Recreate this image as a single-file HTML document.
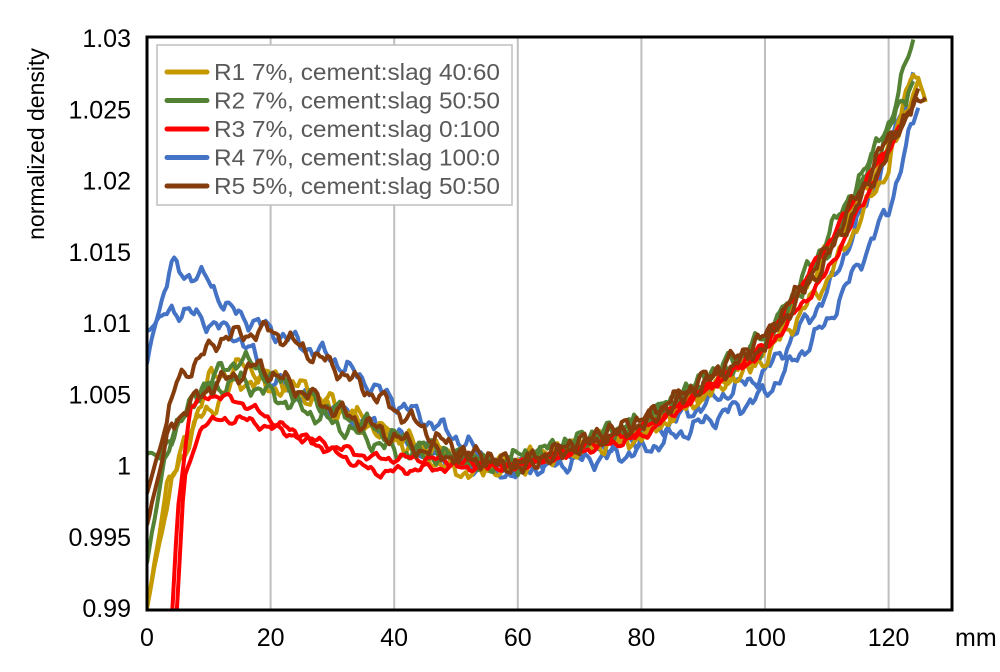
<!DOCTYPE html>
<html><head><meta charset="utf-8"><style>
html,body{margin:0;padding:0;background:#fff;}
svg text{font-family:"Liberation Sans",Arial,sans-serif;}
</style></head><body>
<svg id="s" width="1000" height="667" xmlns="http://www.w3.org/2000/svg">
<defs><clipPath id="c"><rect x="147" y="37" width="805" height="573"/></clipPath></defs>
<g id="grid" stroke="#bfbfbf" stroke-width="2"></g>
<g id="lines" clip-path="url(#c)" fill="none" stroke-width="4" stroke-linejoin="round"></g>
<rect x="147" y="37" width="805" height="573" fill="none" stroke="#000" stroke-width="3"/>
<g id="labels" font-size="25" fill="#000"></g>
<text x="44" y="144" font-size="23" transform="rotate(-90 44 144)" text-anchor="middle">normalized density</text>
<text x="955" y="646" font-size="25">mm</text>
<rect x="157" y="45" width="355" height="160" fill="#fff" stroke="#bfbfbf" stroke-width="1.5"/>
<g id="leg" font-size="23.5" fill="#595959"></g>
</svg>
<script>
const X=m=>147+m*6.18, Y=v=>38+(1.03-v)/0.04*570;
const ns="http://www.w3.org/2000/svg";
function el(p,t,a,txt){const e=document.createElementNS(ns,t);for(const k in a)e.setAttribute(k,a[k]);if(txt!=null)e.textContent=txt;document.getElementById(p).appendChild(e);}
for(let m=20;m<=120;m+=20)el("grid","line",{x1:X(m),y1:37,x2:X(m),y2:610});
for(let m=0;m<=120;m+=20)el("labels","text",{x:X(m),y:646,"text-anchor":"middle"},m);
["1.03","1.025","1.02","1.015","1.01","1.005","1","0.995","0.99"].forEach(v=>el("labels","text",{x:131,y:Y(+v)+9,"text-anchor":"end"},v));
const G="#c49a00",Gr="#548235",R="#ff0000",B="#4472c4",Br="#843c0c";
const S=[
[B,[[0,1.007],[1,1.0095],[4,1.014],[6,1.0135],[10,1.013],[13,1.011],[20,1.0095],[30,1.0075],[40,1.0045],[50,1.002],[58,0.9995],[60,1.0],[80,1.002],[100,1.0065],[110,1.012],[120,1.022],[124,1.0275]],1],
[B,[[0,1.0095],[4,1.011],[8,1.0105],[15,1.009],[20,1.006],[30,1.004],[45,1.001],[58,0.9995],[80,1.001],[95,1.004],[100,1.005],[110,1.01],[120,1.018],[125,1.0255]],2],
[G,[[0,0.99],[4,0.999],[10,1.006],[15,1.007],[25,1.0055],[40,1.002],[50,0.9995],[60,1.0],[80,1.0025],[100,1.0075],[110,1.013],[120,1.021],[124,1.0282],[126,1.0255]],3],
[G,[[0,0.99],[3,0.998],[8,1.003],[15,1.006],[25,1.005],[40,1.002],[55,1.0],[80,1.002],[100,1.008],[120,1.022],[125,1.027]],4],
[Gr,[[0,1.001],[2,1.0005],[5,1.003],[10,1.006],[15,1.0075],[25,1.005],[40,1.002],[55,1.0],[80,1.003],[100,1.009],[110,1.015],[120,1.024],[124,1.0298]],5],
[Gr,[[0,0.993],[3,1.001],[8,1.005],[15,1.006],[25,1.004],[40,1.001],[60,1.0],[80,1.003],[100,1.0085],[120,1.0235],[124,1.027]],6],
[R,[[3.5,0.985],[5,0.997],[7,1.004],[10,1.005],[15,1.0045],[25,1.002],[37,1.0005],[45,1.0005],[55,1.0],[60,1.0],[80,1.0025],[100,1.008],[110,1.0135],[120,1.022],[123,1.025]],7],
[R,[[4.2,0.985],[6,0.999],[9,1.003],[15,1.0033],[25,1.002],[37,0.9995],[45,0.9998],[60,1.0],[80,1.002],[100,1.0085],[120,1.0225],[122,1.024]],8],
[Br,[[0,0.998],[5,1.006],[12,1.009],[20,1.0095],[30,1.007],[40,1.004],[50,1.001],[60,1.0],[80,1.003],[100,1.0085],[110,1.0145],[120,1.022],[125,1.0265]],9],
[Br,[[0,0.996],[4,1.003],[10,1.0055],[18,1.007],[30,1.004],[45,1.001],[60,1.0],[80,1.003],[100,1.009],[110,1.015],[120,1.023],[126,1.026]],10]];
S.forEach(([col,pts,seed])=>{
 let d="",first=true;const a=pts[0][0],b=pts[pts.length-1][0];
 const red=col==R?0.5:1;
 for(let m=a;m<=b+1e-9;m+=0.4){
  let i=0;while(i<pts.length-2&&m>pts[i+1][0])i++;
  const [x0,y0]=pts[i],[x1,y1]=pts[i+1];let v=y0+(y1-y0)*Math.min(1,(m-x0)/(x1-x0));
  const amp=red*((m>a+3&&m<b-1)?1:0.3);
  v+=amp*(0.0004*Math.sin(m*1.3+seed*2.3)+0.0003*Math.sin(m*2.9+seed*1.1)+0.00012*Math.sin(m*6.1+seed*4.7));
  d+=(first?"M":"L")+X(m).toFixed(1)+","+Y(v).toFixed(1);first=false;
 }
 el("lines","path",{d:d,stroke:col});
});
[[G,"R1 7%, cement:slag 40:60"],[Gr,"R2 7%, cement:slag 50:50"],[R,"R3 7%, cement:slag 0:100"],[B,"R4 7%, cement:slag 100:0"],[Br,"R5 5%, cement:slag 50:50"]].forEach(([c,t],i)=>{
 const y=72+i*28.5;
 el("leg","line",{x1:167,y1:y,x2:207,y2:y,stroke:c,"stroke-width":5,"stroke-linecap":"round"});
 el("leg","text",{x:214,y:y+8,textLength:286,lengthAdjust:"spacingAndGlyphs"},t);
});
</script>
</body></html>
